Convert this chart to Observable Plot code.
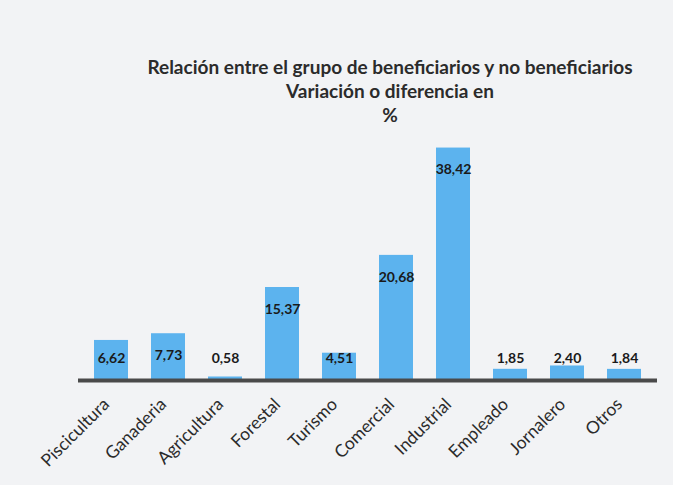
<!DOCTYPE html>
<html><head><meta charset="utf-8">
<script src="https://cdn.jsdelivr.net/npm/d3@7"></script>
<script src="https://cdn.jsdelivr.net/npm/@observablehq/plot@0.6"></script>
<style>
html,body{margin:0;padding:0;background:#f1f2f4;}
#wrap{position:relative;width:673px;height:485px;overflow:hidden;background:#f2f3f5;}
.t{position:absolute;left:0;width:780px;text-align:center;font-family:Lato,"Open Sans",sans-serif;font-weight:bold;font-size:19px;color:#2b2b2b;}
</style></head>
<body><div id="wrap">
<div class="t" style="top:55px">Relación entre el grupo de beneficiarios y no beneficiarios</div>
<div class="t" style="top:79px">Variación o diferencia en</div>
<div class="t" style="top:103px">%</div>
</div>
<script>
const categories = ["Piscicultura","Ganaderia","Agricultura","Forestal","Turismo","Comercial","Industrial","Empleado","Jornalero","Otros"];
const values = [6.62,7.73,0.58,15.37,4.51,20.68,38.42,1.85,2.40,1.84];
const valueLabels = ["6,62","7,73","0,58","15,37","4,51","20,68","38,42","1,85","2,40","1,84"];
const data = categories.map((c,i)=>({cat:c, v:values[i], lab:valueLabels[i]}));
const chart = Plot.plot({
  width:673, height:485,
  marginLeft:78, marginRight:16, marginTop:138, marginBottom:105,
  style:{background:"transparent", fontFamily:"Lato, 'Open Sans', sans-serif"},
  x:{domain:categories, paddingInner:0.41, paddingOuter:0.21, label:null},
  y:{domain:[0,40], axis:null},
  marks:[
    Plot.barY(data,{x:"cat", y:"v", fill:"#5cb3ee"}),
    Plot.ruleY([0],{stroke:"#4a4a4a", strokeWidth:4}),
    Plot.text(data,{x:"cat", y:d=>Math.max(d.v-3.6,3.6), text:"lab", fontWeight:"bold", fontSize:14, fill:"#1a1a1a"}),
    Plot.axisX({tickSize:0, tickRotate:-45, tickPadding:21, fontSize:17.5, fill:"#2b2b2b", label:null, dx:-5})
  ]
});
chart.style.position="absolute"; chart.style.left="0"; chart.style.top="0";
document.getElementById("wrap").appendChild(chart);
</script>
</body></html>
